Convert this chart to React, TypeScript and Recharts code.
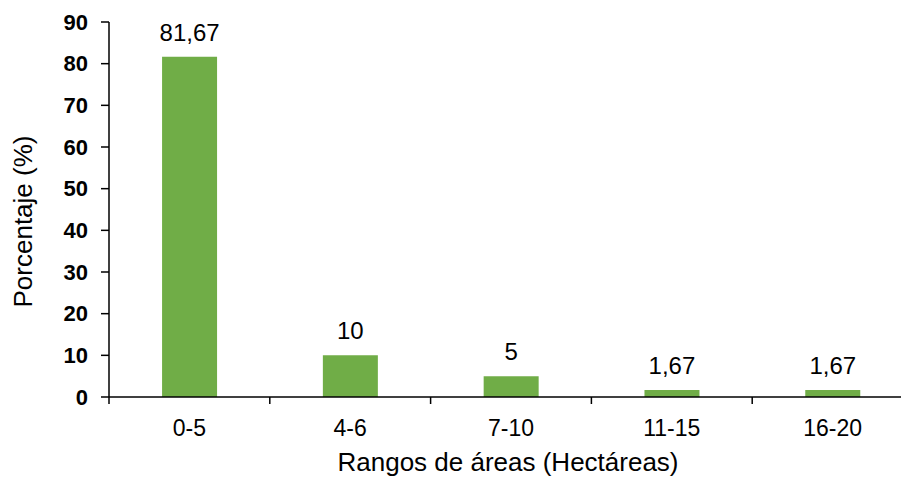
import { Bar, BarChart, LabelList, XAxis, YAxis } from "recharts";

const categories = ["0-5", "4-6", "7-10", "11-15", "16-20"];
const porcentajes = [81.67, 10, 5, 1.67, 1.67];
const yTicks = [0, 10, 20, 30, 40, 50, 60, 70, 80, 90];

const data = categories.map((rango, i) => ({ rango, valor: porcentajes[i] }));

const FONT = '"Liberation Sans", Arial, sans-serif';

/** Excel puts the category tick marks on the band edges, not at the centres. */
function EdgeTick(props: any) {
  const { x, y, payload } = props;
  const half = payload?.offset ?? 80;
  const left = x - half;
  return (
    <g>
      <line x1={left} y1={y - 23} x2={left} y2={y - 16} stroke="#000" strokeWidth={1.5} />
      <text
        x={x}
        y={y}
        dy="0.71em"
        textAnchor="middle"
        fontSize={23}
        fontFamily={FONT}
        fill="#000"
      >
        {payload.value}
      </text>
    </g>
  );
}

const comma = (v: any) => String(v).replace(".", ",");

export default function App() {
  return (
    <div
      style={{
        position: "fixed",
        left: 0,
        top: 0,
        width: 901,
        height: 477,
        overflow: "hidden",
        background: "#fff",
      }}
    >
      <BarChart
        width={915}
        height={477}
        data={data}
        margin={{ top: 22, right: 2, bottom: 0, left: 0 }}
        barCategoryGap="33%"
      >
        <XAxis
          dataKey="rango"
          height={80}
          axisLine={{ stroke: "#000", strokeWidth: 1.5 }}
          tickLine={false}
          tickSize={6}
          tickMargin={17}
          interval={0}
          tick={<EdgeTick />}
          label={{
            value: "Rangos de áreas (Hectáreas)",
            position: "center",
            dx: -3,
            dy: 25,
            fontSize: 26,
            fontFamily: FONT,
            fill: "#000",
          }}
        />
        <YAxis
          width={109}
          domain={[0, 90]}
          ticks={yTicks}
          interval={0}
          axisLine={{ stroke: "#000", strokeWidth: 1.5 }}
          tickLine={{ stroke: "#000", strokeWidth: 1.5 }}
          tickSize={8}
          tickMargin={13}
          tick={{ fontSize: 22, fontWeight: "bold", fontFamily: FONT, fill: "#000" }}
          label={{
            value: "Porcentaje (%)",
            angle: -90,
            position: "center",
            dx: -32,
            dy: 12,
            fontSize: 26,
            fontFamily: FONT,
            fill: "#000",
          }}
        />
        <Bar dataKey="valor" fill="#70AD47" isAnimationActive={false}>
          <LabelList
            dataKey="valor"
            position="top"
            offset={16}
            formatter={comma}
            style={{ fontSize: 24, fontFamily: FONT, fill: "#000" }}
          />
        </Bar>
      </BarChart>
    </div>
  );
}
